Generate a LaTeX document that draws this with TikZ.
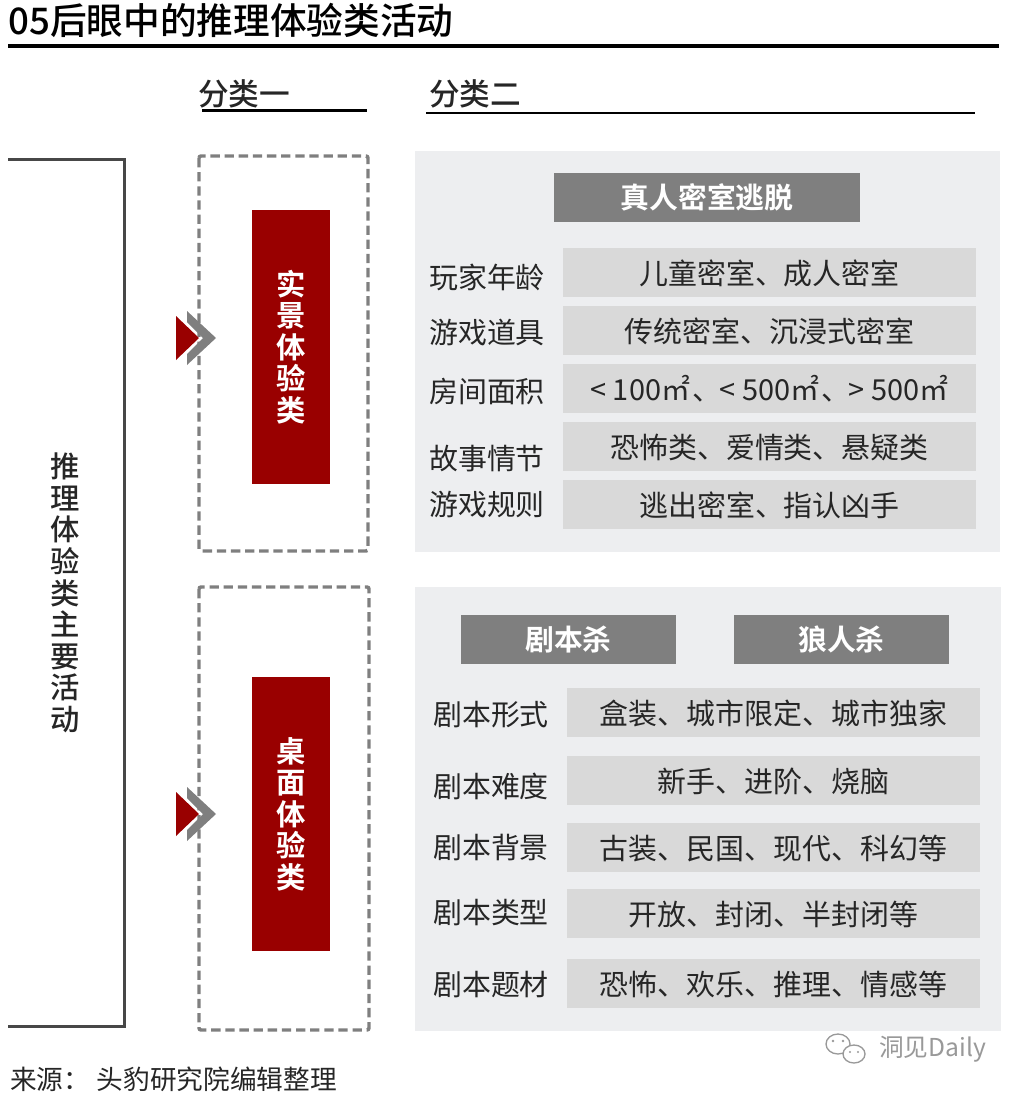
\documentclass[tikz,border=0pt]{standalone}
\usepackage{fontspec}
\setmainfont{Noto Sans CJK SC}[BoldFont={Noto Sans CJK SC Bold}]
\newfontfamily\cjkmedium{Noto Sans CJK SC Medium}
\usepackage{xcolor}
\usetikzlibrary{positioning}

\definecolor{panelgray}{HTML}{EDEEF0}
\definecolor{rowgray}{HTML}{D9D9D9}
\definecolor{headgray}{HTML}{7F7F7F}
\definecolor{darkred}{HTML}{990000}
\definecolor{inktext}{HTML}{262626}
\definecolor{markgray}{HTML}{999999}

\tikzset{
    rowbar/.style={fill=rowgray, text=inktext, inner sep=0pt, minimum width=309.75pt, minimum height=36.75pt, text height=18.6pt, text depth=0pt, font=\fontsize{21.7pt}{26pt}\selectfont},
    rowlabel/.style={text=inktext, inner sep=0pt, font=\fontsize{21.7pt}{26pt}\selectfont},
    headbox/.style={fill=headgray, text=white, inner sep=0pt, minimum height=36.75pt, font=\fontsize{21.6pt}{26pt}\selectfont\bfseries},
    redbox/.style={fill=darkred, text=white, inner sep=0pt, minimum width=58.5pt, minimum height=205.5pt, align=center, font=\fontsize{22pt}{23.6pt}\selectfont\bfseries},
    dashbox/.style={draw=headgray, line width=2.6pt, dash pattern=on 7pt off 3.6pt, rounded corners=1.5pt},
    panelbox/.style={fill=panelgray},
    columnhead/.style={text=inktext, inner sep=0pt, font=\fontsize{23pt}{27pt}\selectfont\cjkmedium},
    pics/flagmark/.style={code={
        \fill[darkred] (0,-22) -- (23,0) -- (0,22) -- cycle;
        \fill[headgray] (11,-27) -- (40,0) -- (11,27) -- (11,16) -- (27,0) -- (11,-16) -- cycle;
    }}
}

\begin{document}
\begin{tikzpicture}[x=0.75pt, y=-0.75pt]

\useasboundingbox (0,0) rectangle (1018,1096);

% title
\node[anchor=west, inner sep=0pt, font=\fontsize{27.5pt}{32pt}\selectfont\cjkmedium] (title) at (8,20) {05后眼中的推理体验类活动};
\draw[line width=2.8pt] (8,46) -- (999,46);

\node[columnhead, anchor=west] (headone) at (198,94) {分类一};
\draw[line width=2pt] (202,110.5) -- (367,110.5);
\node[columnhead, anchor=west] (headtwo) at (429,94) {分类二};
\draw[line width=1.6pt] (426,112.7) -- (975,112.7);

% bracket
\draw[draw=inktext!85, line width=2.2pt] (8,159.5) -- (124.5,159.5) -- (124.5,1026.5) -- (8,1026.5);
\node[text=inktext, inner sep=0pt, align=center, font=\fontsize{22pt}{23.7pt}\selectfont\cjkmedium] (mainlabel) at (65,593) {推\\理\\体\\验\\类\\主\\要\\活\\动};

% dashed boxes
\draw[dashbox] (199,156) rectangle (368,551);
\draw[dashbox] (199,587) rectangle (369,1030);
\pic at (176,338) {flagmark};
\pic at (176,814) {flagmark};
\node[redbox] (realbox) at (291,347) {实\\景\\体\\验\\类};
\node[redbox] (tablebox) at (291,814) {桌\\面\\体\\验\\类};

% upper panel
\fill[panelbox] (415,151) rectangle (1000,552);
\node[headbox, minimum width=229.5pt] (escape) at (707,197.5) {真人密室逃脱};

\node[rowbar] (agebar) at (769.5,272.5) {儿童密室、成人密室};
\node[rowbar] (propbar) at (769.5,330.5) {传统密室、沉浸式密室};
\node[rowbar] (areabar) at (769.5,388.5) {< 100㎡\hspace{2pt}、\hspace{-1.5pt}< 500㎡\hspace{2pt}、\hspace{-1.5pt}> 500㎡};
\node[rowbar] (plotbar) at (769.5,446.5) {恐怖类、爱情类、悬疑类};
\node[rowbar] (rulebar) at (769.5,504.5) {逃出密室、指认凶手};

\node[rowlabel] (agelabel) at (487,277) {玩家年龄};
\node[rowlabel] (proplabel) at (487,333) {游戏道具};
\node[rowlabel] (arealabel) at (487,391) {房间面积};
\node[rowlabel] (plotlabel) at (487,459) {故事情节};
\node[rowlabel] (rulelabel) at (487,505) {游戏规则};

% lower panel
\fill[panelbox] (415,587) rectangle (1001,1031);
\node[headbox, minimum width=161.25pt] (murder) at (568.5,639.5) {剧本杀};
\node[headbox, minimum width=161.25pt] (werewolf) at (841.5,639.5) {狼人杀};

\node[rowbar] (formbar) at (773.5,712.5) {盒装、城市限定、城市独家};
\node[rowbar] (levelbar) at (773.5,780.5) {新手、进阶、烧脑};
\node[rowbar] (erabar) at (773.5,847.5) {古装、民国、现代、科幻等};
\node[rowbar] (typebar) at (773.5,913.5) {开放、封闭、半封闭等};
\node[rowbar] (themebar) at (773.5,983.5) {恐怖、欢乐、推理、情感等};

\node[rowlabel] (formlabel) at (491,715) {剧本形式};
\node[rowlabel] (levellabel) at (491,786) {剧本难度};
\node[rowlabel] (eralabel) at (491,847) {剧本背景};
\node[rowlabel] (typelabel) at (491,913) {剧本类型};
\node[rowlabel] (themelabel) at (491,985) {剧本题材};

% source and mark
\node[text=inktext, anchor=west, inner sep=0pt, font=\fontsize{20pt}{24pt}\selectfont] (source) at (10,1079) {来源：\hspace{5pt}头豹研究院编辑整理};

\draw[markgray, line width=1pt, fill=white] (838,1044) ellipse (12 and 10);
\draw[markgray, line width=1pt, fill=white] (854,1054) ellipse (11 and 9);
\fill[markgray] (833,1041) circle (1.3) (843,1041) circle (1.3) (850,1052) circle (1.1) (858,1052) circle (1.1);
\node[text=markgray, anchor=west, inner sep=0pt, font=\fontsize{18.5pt}{22pt}\selectfont] (daily) at (879,1049) {洞见Daily};

\end{tikzpicture}
\end{document}
